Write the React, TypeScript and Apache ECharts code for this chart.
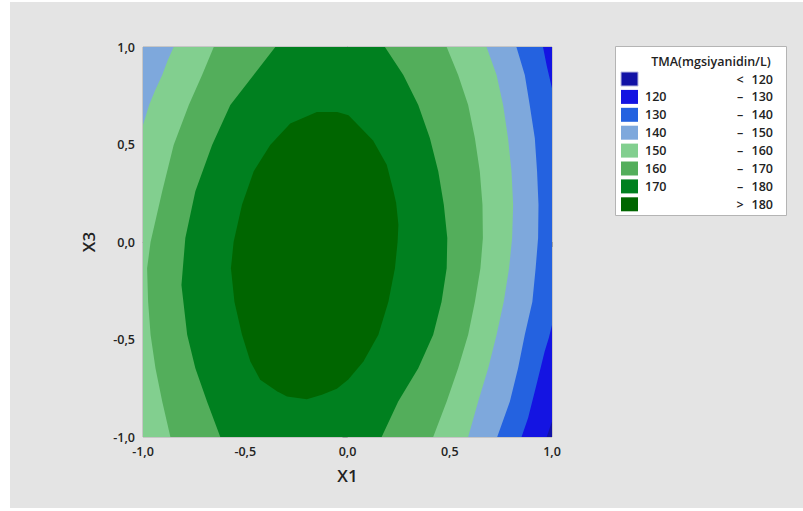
import React, { useEffect, useRef } from "react";
import * as echarts from "echarts";

// ---- Data ----
const xTicks = [-1, -0.5, 0, 0.5, 1];
const yTicks = [-1, -0.5, 0, 0.5, 1];
const levels = [120, 130, 140, 150, 160, 170, 180];

// band colours: <120, 120-130, ..., >180
const bandColors = ["#1212a6", "#1414e2", "#2462e0", "#7ea8dc", "#82cf8f", "#53ae5b", "#00801f", "#006600"];

// Regions where TMA exceeds each level, traced as (X1, X3) outlines
const regionAll = [[-1, -1], [1, -1], [1, 1], [-1, 1]];
const region120 = [[-1, -1], [0.974, -1], [1, -0.92], [1, 1], [-1, 1]];
const region130 = [[-1, -1], [0.851, -1], [0.883, -0.903], [0.924, -0.732], [0.964, -0.562], [0.985, -0.49], [1, -0.425], [1, 0.789], [0.975, 0.9], [0.956, 1], [-1, 1]];
const region140 = [[-1, -1], [0.732, -1], [0.794, -0.818], [0.834, -0.647], [0.867, -0.476], [0.904, -0.306], [0.92, -0.135], [0.932, 0.02], [0.934, 0.191], [0.927, 0.362], [0.916, 0.532], [0.891, 0.703], [0.867, 0.857], [0.826, 1], [-1, 1]];
const region150 = [[-1, -1], [0.59, -1], [0.639, -0.818], [0.688, -0.647], [0.729, -0.476], [0.764, -0.306], [0.79, -0.135], [0.805, 0.02], [0.81, 0.191], [0.802, 0.362], [0.785, 0.532], [0.761, 0.703], [0.729, 0.857], [0.68, 1], [-0.85, 1], [-0.88, 0.93], [-0.906, 0.857], [-0.94, 0.78], [-0.97, 0.703], [-1, 0.6]];
const region160 = [[-0.866, -1], [0.419, -1], [0.485, -0.818], [0.541, -0.647], [0.59, -0.476], [0.623, -0.306], [0.65, -0.135], [0.662, 0.02], [0.66, 0.191], [0.647, 0.362], [0.623, 0.532], [0.59, 0.703], [0.541, 0.857], [0.485, 1], [-0.654, 1], [-0.711, 0.857], [-0.776, 0.703], [-0.85, 0.498], [-0.906, 0.26], [-0.963, 0.0], [-0.98, -0.135], [-0.975, -0.306], [-0.963, -0.476], [-0.939, -0.647], [-0.906, -0.818]];
const region170 = [[-0.622, -1], [0.167, -1], [0.248, -0.818], [0.346, -0.647], [0.419, -0.476], [0.46, -0.306], [0.485, -0.135], [0.488, 0.02], [0.471, 0.191], [0.444, 0.362], [0.403, 0.532], [0.346, 0.703], [0.273, 0.857], [0.183, 1], [-0.353, 1], [-0.459, 0.857], [-0.573, 0.703], [-0.662, 0.498], [-0.744, 0.26], [-0.793, 0.02], [-0.812, -0.22], [-0.784, -0.476], [-0.744, -0.647], [-0.687, -0.818]];
const region180 = [[-0.199, -0.806], [-0.125, -0.783], [-0.052, -0.753], [0.004, -0.705], [0.078, -0.613], [0.151, -0.476], [0.2, -0.306], [0.232, -0.135], [0.245, 0.0], [0.249, 0.089], [0.238, 0.2], [0.225, 0.26], [0.192, 0.396], [0.125, 0.52], [0.061, 0.59], [0.005, 0.65], [-0.05, 0.667], [-0.15, 0.667], [-0.28, 0.608], [-0.378, 0.498], [-0.459, 0.362], [-0.516, 0.191], [-0.557, 0.0], [-0.57, -0.135], [-0.553, -0.306], [-0.516, -0.476], [-0.475, -0.613], [-0.427, -0.707], [-0.345, -0.766], [-0.296, -0.792]];

const regions = [regionAll, region120, region130, region140, region150, region160, region170, region180];

// legend texts
const legendTitle = "TMA(mgsiyanidin/L)";
const legendLow = ["", "120", "130", "140", "150", "160", "170", ""];
const legendSep = ["<", "–", "–", "–", "–", "–", "–", ">"];
const legendHigh = ["120", "130", "140", "150", "160", "170", "180", "180"];

const FONT = "'Open Sans', 'Noto Sans', sans-serif";
const TXT = "#222222";

const fmt = (v: number) => v.toFixed(1).replace(".", ",");

export default function App() {
  const ref = useRef<HTMLDivElement>(null);
  useEffect(() => {
    if (!ref.current) return;
    const chart = echarts.init(ref.current, undefined, { renderer: "svg" });

    const legendEls: any[] = [];
    const lx = 615.5, ly = 46.5;
    legendEls.push({ type: "rect", shape: { x: lx, y: ly, width: 171, height: 169 }, style: { fill: "#ffffff", stroke: "#b4b4b4", lineWidth: 1 }, z: 10 });
    legendEls.push({ type: "text", x: 711, y: 61, style: { text: legendTitle, font: `600 12.5px ${FONT}`, fill: TXT, align: "center", verticalAlign: "middle" }, z: 11 });
    bandColors.forEach((c, i) => {
      const cy = 79 + i * 17.9;
      legendEls.push({ type: "rect", shape: { x: 621, y: cy - 7, width: 17, height: 14 }, style: { fill: c, stroke: i === 0 ? "#b8b8e0" : null, lineWidth: 1 }, z: 11 });
      if (legendLow[i]) legendEls.push({ type: "text", x: 645, y: cy, style: { text: legendLow[i], font: `600 12.5px ${FONT}`, fill: TXT, align: "left", verticalAlign: "middle" }, z: 11 });
      legendEls.push({ type: "text", x: 740, y: cy, style: { text: legendSep[i], font: `600 12.5px ${FONT}`, fill: TXT, align: "center", verticalAlign: "middle" }, z: 11 });
      legendEls.push({ type: "text", x: 773, y: cy, style: { text: legendHigh[i], font: `600 12.5px ${FONT}`, fill: TXT, align: "right", verticalAlign: "middle" }, z: 11 });
    });

    const axisCommon = {
      type: "value",
      min: -1,
      max: 1,
      interval: 0.5,
      axisLine: { show: true, lineStyle: { color: "#a0a0a0", width: 1 } },
      axisTick: { show: true, length: 5, lineStyle: { color: "#a0a0a0" } },
      splitLine: { show: false },
      nameLocation: "middle",
      nameTextStyle: { fontSize: 17, fontWeight: 600, color: TXT, fontFamily: FONT },
    };

    chart.setOption({
      animation: false,
      backgroundColor: "#e4e4e4",
      textStyle: { fontFamily: FONT },
      grid: { left: 143, top: 47, width: 409, height: 390, show: true, borderColor: "#a8a8a8", borderWidth: 1, backgroundColor: "transparent" },
      xAxis: {
        ...axisCommon,
        name: "X1",
        nameGap: 30,
        axisLabel: { formatter: (v: number) => fmt(v), fontSize: 12.5, fontWeight: 600, color: TXT, fontFamily: FONT, margin: 8, customValues: xTicks },
      },
      yAxis: {
        ...axisCommon,
        name: "X3",
        nameGap: 46,
        axisLabel: { formatter: (v: number) => fmt(v), fontSize: 12.5, fontWeight: 600, color: TXT, fontFamily: FONT, margin: 8, customValues: yTicks },
      },
      series: [
        {
          type: "custom",
          coordinateSystem: "cartesian2d",
          silent: true,
          clip: true,
          data: regions.map((_, i) => [0, 0, i]),
          renderItem: (params: any, api: any) => {
            const i = params.dataIndex;
            const pts = regions[i].map((p) => api.coord(p));
            return { type: "polygon", shape: { points: pts }, style: { fill: bandColors[i], stroke: null } };
          },
        },
      ],
      graphic: [
        { type: "rect", shape: { x: 0, y: 0, width: 10, height: 511 }, style: { fill: "#ffffff" }, z: 1 },
        { type: "rect", shape: { x: 0, y: 0, width: 803, height: 2 }, style: { fill: "#ffffff" }, z: 1 },
        { type: "rect", shape: { x: 0, y: 508, width: 803, height: 3 }, style: { fill: "#ffffff" }, z: 1 },
        ...legendEls,
      ],
    });
    return () => chart.dispose();
  }, []);
  return <div ref={ref} style={{ position: "fixed", left: 0, top: 0, width: 803, height: 511 }} />;
}
